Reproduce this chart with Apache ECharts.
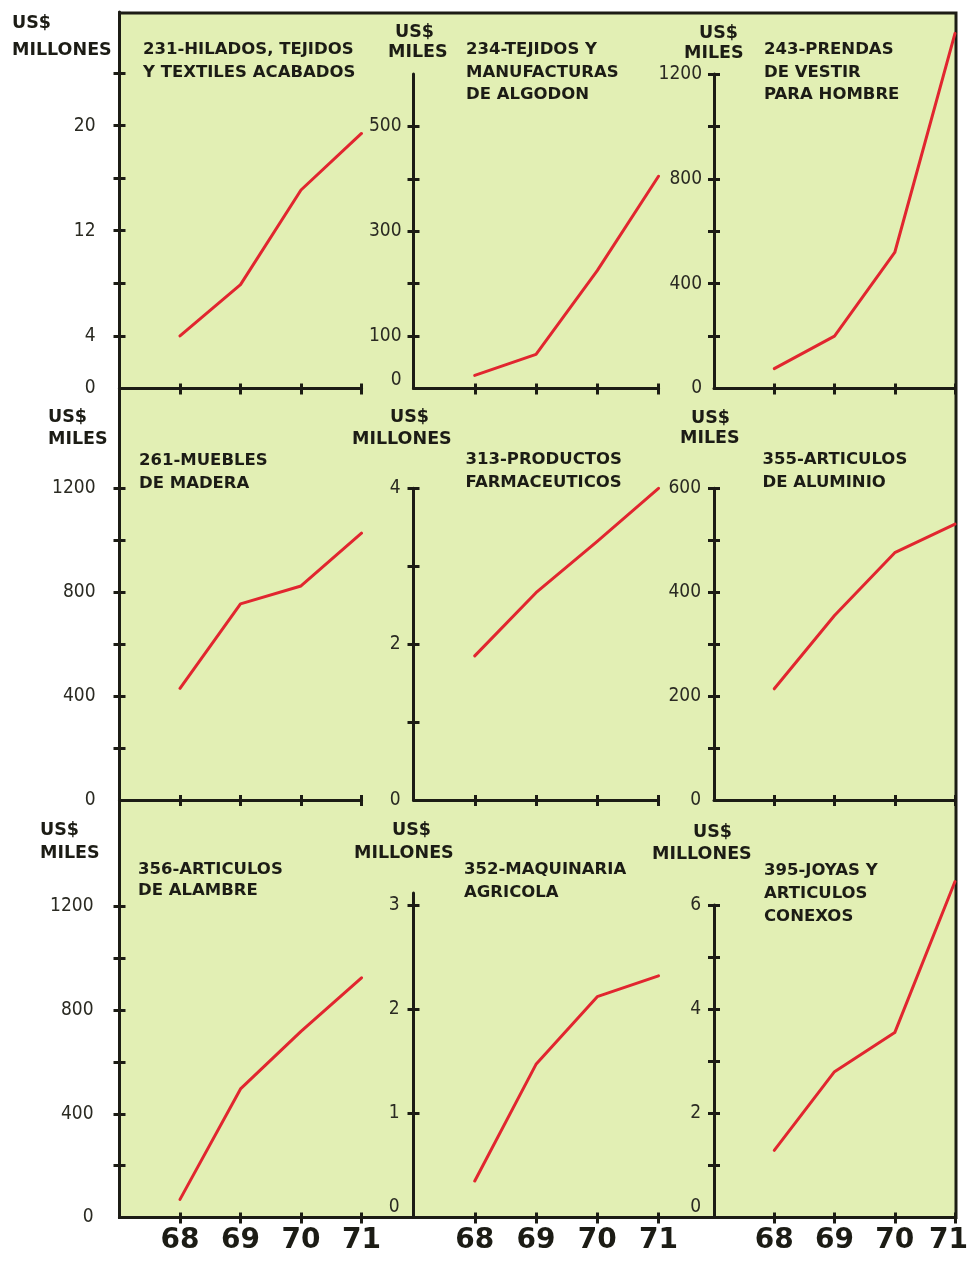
<!DOCTYPE html>
<html>
<head>
<meta charset="utf-8">
<script src="https://cdn.jsdelivr.net/npm/echarts@6/dist/echarts.min.js"></script>
<style>
html,body{margin:0;padding:0;background:#ffffff;}
#c{width:968px;height:1261px;}
</style>
</head>
<body>
<div id="c"></div>
<script>
// ---------- DATA ----------
const years = [68, 69, 70, 71];

const panelTitles = [
  '231-HILADOS, TEJIDOS\nY TEXTILES ACABADOS',
  '234-TEJIDOS Y\nMANUFACTURAS\nDE ALGODON',
  '243-PRENDAS\nDE VESTIR\nPARA HOMBRE',
  '261-MUEBLES\nDE MADERA',
  '313-PRODUCTOS\nFARMACEUTICOS',
  '355-ARTICULOS\nDE ALUMINIO',
  '356-ARTICULOS\nDE ALAMBRE',
  '352-MAQUINARIA\nAGRICOLA',
  '395-JOYAS Y\nARTICULOS\nCONEXOS'
];
const unitCurrency = ['US$', 'US$', 'US$', 'US$', 'US$', 'US$', 'US$', 'US$', 'US$'];
const unitScale = ['MILLONES', 'MILES', 'MILES', 'MILES', 'MILLONES', 'MILES', 'MILES', 'MILLONES', 'MILLONES'];

const v231 = [4.0, 7.9, 15.1, 19.4];
const v234 = [25, 65, 225, 405];
const v243 = [76, 200, 519, 1355];
const v261 = [430, 755, 824, 1027];
const v313 = [1.85, 2.66, 3.32, 4.0];
const v355 = [214, 355, 476, 531];
const v356 = [70, 496, 718, 925];
const v352 = [0.35, 1.47, 2.12, 2.32];
const v395 = [1.29, 2.80, 3.55, 6.45];

const ticks231 = [4, 8, 12, 16, 20, 24];        const labels231 = [0, 4, 12, 20];
const ticks234 = [100, 200, 300, 400, 500];     const labels234 = [0, 100, 300, 500];
const ticks243 = [200, 400, 600, 800, 1000, 1200]; const labels243 = [0, 400, 800, 1200];
const ticks261 = [200, 400, 600, 800, 1000, 1200]; const labels261 = [0, 400, 800, 1200];
const ticks313 = [1, 2, 3, 4];                  const labels313 = [0, 2, 4];
const ticks355 = [100, 200, 300, 400, 500, 600]; const labels355 = [0, 200, 400, 600];
const ticks356 = [200, 400, 600, 800, 1000, 1200]; const labels356 = [0, 400, 800, 1200];
const ticks352 = [1, 2, 3];                     const labels352 = [0, 1, 2, 3];
const ticks395 = [1, 2, 3, 4, 5, 6];            const labels395 = [0, 2, 4, 6];

const seriesValues = [v231, v234, v243, v261, v313, v355, v356, v352, v395];
const tickValues = [ticks231, ticks234, ticks243, ticks261, ticks313, ticks355, ticks356, ticks352, ticks395];
const labelValues = [labels231, labels234, labels243, labels261, labels313, labels355, labels356, labels352, labels395];

// ---------- LAYOUT / STYLE ----------
const GREEN = '#e2efb4';
const INK = '#1c1c15';
const RED = '#e1262f';
const TICKFONT = "'DejaVu Sans Condensed', 'Liberation Sans Narrow', 'DejaVu Sans', sans-serif";
const BOLDFONT = "'DejaVu Sans', sans-serif";

const cols = [[119.5, 242], [413.5, 245], [714, 241]];
const rowBottom = [388.5, 800, 1217.5];
// per panel: col,row, axis top y, axis max, label margin, zero label lift
const layout = [
  {col: 0, row: 0, top: 12,    max: 28.64, margin: 24, lift: 0},
  {col: 1, row: 0, top: 74,    max: 600,   margin: 12, lift: 8},
  {col: 2, row: 0, top: 74,    max: 1200,  margin: 12, lift: 0},
  {col: 0, row: 1, top: 388.5, max: 1584,  margin: 24, lift: 0},
  {col: 1, row: 1, top: 488.3, max: 4,     margin: 13, lift: 0},
  {col: 2, row: 1, top: 488.3, max: 600,   margin: 13, lift: 0},
  {col: 0, row: 2, top: 800,   max: 1611,  margin: 26, lift: 0},
  {col: 1, row: 2, top: 893,   max: 3.115, margin: 14, lift: 10},
  {col: 2, row: 2, top: 905,   max: 6,     margin: 13, lift: 10}
];
// panel title: [left, top of first line, line height]
const titlePos = [
  [143, 38.5, 23], [466, 38.5, 22.5], [764, 38.5, 22.5],
  [139, 449.5, 22.5], [465.5, 448.5, 23], [762.5, 448.5, 23],
  [138, 858.5, 21.5], [464, 858.5, 23], [764, 859.5, 23]
];
// unit labels: [x line1, yCenter line1, x line2, yCenter line2]
const unitPos = [
  [12, 23, 12, 50], [395, 32, 388, 52.5], [699, 33, 684, 53],
  [48, 417, 48, 439], [390, 417, 352, 439], [691, 418, 680, 438],
  [40, 830, 40, 853], [392, 830, 354, 853], [693, 832, 652, 854]
];

// ---------- BUILD ----------
const grid = [{
  left: 119.5, top: 13, width: 836.5, height: 1204.5,
  show: true, backgroundColor: GREEN, borderColor: INK, borderWidth: 3,
  outerBoundsMode: 'none', containLabel: false
}];
const xAxis = [{gridIndex: 0, type: 'value', show: false, min: 0, max: 1}];
const yAxis = [{gridIndex: 0, type: 'value', show: false, min: 0, max: 1}];
const series = [];
const title = [];

const tickStyle = {color: INK, width: 3};

layout.forEach((L, i) => {
  const g = i + 1;
  const [left, width] = cols[L.col];
  const bottom = rowBottom[L.row];
  grid.push({left: left, top: L.top, width: width, height: bottom - L.top,
    containLabel: false, outerBoundsMode: 'none'});

  const isBottomRow = L.row === 2;
  const lastCol = L.col === 2;
  xAxis.push({
    gridIndex: g, type: 'value', min: 67, max: 71, position: 'bottom',
    axisLine: {show: true, onZero: false, lineStyle: {color: INK, width: 3}},
    axisTick: {show: true, customValues: years, length: 6, lineStyle: tickStyle},
    axisLabel: {
      show: isBottomRow, customValues: years, margin: 9, hideOverlap: false,
      fontSize: 28, fontWeight: 'bold', fontFamily: BOLDFONT, color: INK,
      formatter: function (v) { return (lastCol && v === 71) ? '{e|' + v + '}' : String(v); },
      rich: {e: {fontSize: 28, fontWeight: 'bold', fontFamily: BOLDFONT, color: INK, padding: [0, 13, 0, 0]}}
    },
    splitLine: {show: false}
  });
  xAxis.push({
    gridIndex: g, type: 'value', min: 67, max: 71, position: 'bottom',
    axisLine: {show: false, onZero: false},
    axisTick: {show: true, inside: true, customValues: years, length: 5, lineStyle: tickStyle},
    axisLabel: {show: false}, splitLine: {show: false}
  });

  const lift = L.lift;
  yAxis.push({
    gridIndex: g, type: 'value', min: 0, max: L.max, position: 'left',
    axisLine: {show: true, onZero: false, lineStyle: {color: INK, width: 3}},
    axisTick: {show: true, customValues: tickValues[i], length: 6, lineStyle: tickStyle},
    axisLabel: {
      show: true, customValues: labelValues[i], margin: L.margin,
      fontSize: 19, fontFamily: TICKFONT, color: '#2a2a22',
      formatter: function (v) { return (v === 0 && lift) ? '{z|0}' : String(v); },
      rich: {z: {fontSize: 19, fontFamily: TICKFONT, color: '#2a2a22', padding: [0, 0, lift * 2, 0]}}
    },
    splitLine: {show: false}
  });
  yAxis.push({
    gridIndex: g, type: 'value', min: 0, max: L.max, position: 'left',
    axisLine: {show: false, onZero: false},
    axisTick: {show: true, inside: true, customValues: tickValues[i], length: 6, lineStyle: tickStyle},
    axisLabel: {show: false}, splitLine: {show: false}
  });

  series.push({
    type: 'line',
    xAxisIndex: 1 + 2 * i, yAxisIndex: 1 + 2 * i,
    data: years.map((yr, k) => [yr, seriesValues[i][k]]),
    showSymbol: false, symbol: 'none', clip: false, silent: true,
    lineStyle: {color: RED, width: 3, join: 'round', cap: 'round'},
    z: 5
  });

  const tp = titlePos[i];
  title.push({
    text: panelTitles[i], left: tp[0], top: tp[1], padding: 0, itemGap: 0,
    textStyle: {fontFamily: BOLDFONT, fontWeight: 'bold', fontSize: 16.5, lineHeight: tp[2], color: INK}
  });
  const up = unitPos[i];
  const uLH = 21;
  title.push({
    text: unitCurrency[i], left: up[0], top: up[1] - uLH / 2, padding: 0,
    textStyle: {fontFamily: BOLDFONT, fontWeight: 'bold', fontSize: 17.5, lineHeight: uLH, color: INK}
  });
  title.push({
    text: unitScale[i], left: up[2], top: up[3] - uLH / 2, padding: 0,
    textStyle: {fontFamily: BOLDFONT, fontWeight: 'bold', fontSize: 17.5, lineHeight: uLH, color: INK}
  });
});

const chart = echarts.init(document.getElementById('c'), null, {renderer: 'canvas'});
chart.setOption({
  animation: false,
  backgroundColor: '#ffffff',
  title: title,
  grid: grid,
  xAxis: xAxis,
  yAxis: yAxis,
  series: series
});
</script>
</body>
</html>
